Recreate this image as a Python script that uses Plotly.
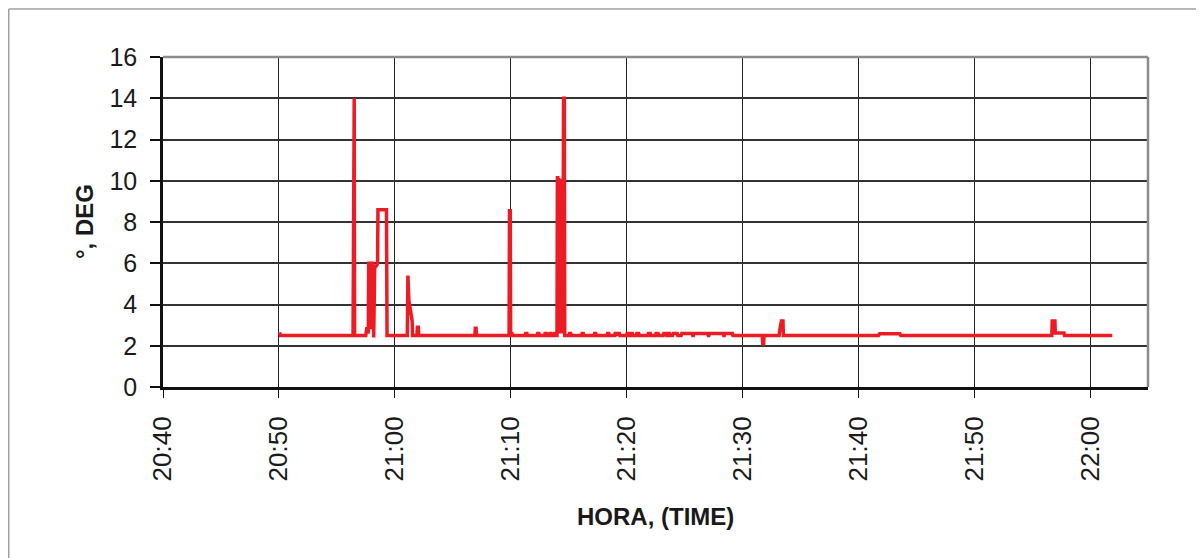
import plotly.graph_objects as go

# ---- data ----
times = [
    "20:50:04", "20:50:08",
    "20:56:24", "20:56:26", "20:56:30", "20:56:32",
    "20:57:30", "20:57:36", "20:57:43", "20:57:45", "20:57:52", "20:57:55",
    "20:57:58", "20:58:07", "20:58:11", "20:58:16", "20:58:27", "20:58:31",
    "20:58:33", "20:59:17", "20:59:20",
    "21:01:05", "21:01:08", "21:01:13", "21:01:24", "21:01:30", "21:01:32",
    "21:01:55", "21:01:57", "21:02:02", "21:02:04",
    "21:06:55", "21:06:57", "21:07:01", "21:07:03",
    "21:09:52", "21:09:54", "21:09:58", "21:10:00", "21:10:05", "21:10:10",
    "21:11:15", "21:11:18", "21:11:24", "21:11:27",
    "21:12:17", "21:12:20", "21:12:26", "21:12:29",
    "21:12:55", "21:12:58", "21:13:05", "21:13:08",
    "21:13:20", "21:13:23", "21:13:30", "21:13:33",
    "21:13:44", "21:13:47", "21:13:52", "21:13:55",
    "21:14:00", "21:14:02", "21:14:04", "21:14:06", "21:14:08", "21:14:10",
    "21:14:12", "21:14:14", "21:14:16", "21:14:18", "21:14:20", "21:14:22",
    "21:14:24", "21:14:26", "21:14:28", "21:14:30", "21:14:32", "21:14:34",
    "21:14:38", "21:14:40",
    "21:15:02", "21:15:05", "21:15:11", "21:15:14",
    "21:16:07", "21:16:10", "21:16:16", "21:16:19",
    "21:17:12", "21:17:15", "21:17:21", "21:17:24",
    "21:18:19", "21:18:22", "21:18:28", "21:18:31",
    "21:18:58", "21:19:01", "21:19:07", "21:19:10",
    "21:19:14", "21:19:17", "21:19:23", "21:19:26",
    "21:20:00", "21:20:03", "21:20:10", "21:20:13",
    "21:20:20", "21:20:23", "21:20:30", "21:20:33",
    "21:20:50", "21:20:53", "21:21:03", "21:21:06",
    "21:21:50", "21:21:53", "21:22:03", "21:22:06",
    "21:22:30", "21:22:33", "21:22:43", "21:22:46",
    "21:23:10", "21:23:13", "21:23:25", "21:23:28",
    "21:23:32", "21:23:35", "21:23:42", "21:23:45",
    "21:23:58", "21:24:01", "21:24:22", "21:24:25",
    "21:24:43", "21:24:46", "21:25:40", "21:25:43",
    "21:25:46", "21:25:49", "21:27:00", "21:27:03",
    "21:27:06", "21:27:09", "21:28:20", "21:28:23",
    "21:28:26", "21:28:29", "21:29:08", "21:29:11",
    "21:31:43", "21:31:45", "21:31:50", "21:31:52",
    "21:33:10", "21:33:14", "21:33:22", "21:33:30", "21:33:32",
    "21:41:45", "21:41:50", "21:43:35", "21:43:40",
    "21:56:42", "21:56:44", "21:56:58", "21:57:00", "21:57:45", "21:57:48",
    "22:01:55",
]
degs = [
    2.65, 2.5,
    2.5, 14.0, 14.0, 2.5,
    2.5, 2.9, 2.6, 6.0, 6.0, 2.8,
    6.0, 6.0, 2.4, 5.8, 5.9, 6.0,
    8.6, 8.6, 2.5,
    2.5, 5.4, 4.2, 3.6, 3.2, 2.5,
    2.5, 2.9, 2.9, 2.5,
    2.5, 2.85, 2.85, 2.5,
    2.5, 8.55, 8.55, 2.5, 2.65, 2.5,
    2.5, 2.6, 2.6, 2.5,
    2.5, 2.6, 2.6, 2.5,
    2.5, 2.6, 2.6, 2.5,
    2.5, 2.6, 2.6, 2.5,
    2.5, 2.6, 2.6, 2.5,
    2.5, 10.15, 10.15, 2.6, 10.1, 2.6,
    10.0, 2.6, 9.9, 2.6, 10.0, 2.6,
    10.1, 2.6, 10.0, 2.6, 10.0, 14.0,
    14.0, 2.5,
    2.5, 2.6, 2.6, 2.5,
    2.5, 2.6, 2.6, 2.5,
    2.5, 2.6, 2.6, 2.5,
    2.5, 2.6, 2.6, 2.5,
    2.5, 2.6, 2.6, 2.5,
    2.5, 2.6, 2.6, 2.5,
    2.5, 2.6, 2.6, 2.5,
    2.5, 2.6, 2.6, 2.5,
    2.5, 2.6, 2.6, 2.5,
    2.5, 2.6, 2.6, 2.5,
    2.5, 2.6, 2.6, 2.5,
    2.5, 2.6, 2.6, 2.5,
    2.5, 2.6, 2.6, 2.5,
    2.5, 2.6, 2.6, 2.5,
    2.5, 2.6, 2.6, 2.5,
    2.5, 2.6, 2.6, 2.5,
    2.5, 2.6, 2.6, 2.5,
    2.5, 2.6, 2.6, 2.5,
    2.5, 2.1, 2.1, 2.5,
    2.5, 2.8, 3.2, 3.2, 2.5,
    2.5, 2.58, 2.58, 2.5,
    2.5, 3.2, 3.2, 2.62, 2.62, 2.5,
    2.5,
]

DAY = "2024-01-01 "
x_vals = [DAY + t for t in times]

y_ticks = [0, 2, 4, 6, 8, 10, 12, 14, 16]
x_range = ["20:40:00", "22:05:00"]
x_title = "HORA, (TIME)"
y_title = "°, DEG"

FONT = "Liberation Sans, Arial, sans-serif"
TXT = "#1a1a1a"

fig = go.Figure()
fig.add_trace(go.Scatter(
    x=x_vals, y=degs, mode="lines",
    line=dict(color="#ED1C24", width=3.5),
    showlegend=False, hoverinfo="skip",
))

# page body adds an 8px offset; compensate in size/margins
fig.update_layout(
    width=1196, height=550,
    margin=dict(l=155, r=56, t=49, b=171),
    paper_bgcolor="white", plot_bgcolor="white",
    font=dict(family=FONT, color=TXT),
    showlegend=False,
)

fig.update_xaxes(
    type="date",
    range=[DAY + x_range[0], DAY + x_range[1]],
    tick0=DAY + "20:40:00", dtick=600000,
    tickformat="%H:%M", tickangle=-90,
    tickfont=dict(size=26, family=FONT, color=TXT),
    ticks="outside", ticklen=8, tickwidth=1, tickcolor="#111",
    ticklabelstandoff=8,
    showgrid=True, gridcolor="#222", gridwidth=1.2,
    showline=True, linecolor="#111", linewidth=3,
    zeroline=False,
)
fig.update_yaxes(
    range=[0, 16], tickvals=y_ticks,
    tickfont=dict(size=25, family=FONT, color=TXT),
    ticks="outside", ticklen=10, tickwidth=1.5, tickcolor="#111",
    ticklabelstandoff=8,
    showgrid=True, gridcolor="#333", gridwidth=1.5,
    showline=True, linecolor="#111", linewidth=2.5,
    zeroline=False,
)

# plot-area top/right border (gray) and outer chart border
fig.add_shape(type="line", xref="paper", yref="paper", x0=0, x1=1, y0=1, y1=1,
              line=dict(color="#8c8c8c", width=2.5), layer="above")
fig.add_shape(type="line", xref="paper", yref="paper", x0=1, x1=1, y0=0, y1=1,
              line=dict(color="#8c8c8c", width=2.5), layer="above")
fig.add_shape(type="line", xref="paper", yref="paper", x0=-0.1566, x1=1.2, y0=1.1455, y1=1.1455,
              line=dict(color="#a0a0a0", width=1.5), layer="above")
fig.add_shape(type="line", xref="paper", yref="paper", x0=-0.1566, x1=-0.1566, y0=-0.6, y1=1.1455,
              line=dict(color="#a0a0a0", width=1.5), layer="above")

fig.add_annotation(text="<b>" + x_title + "</b>", xref="paper", yref="paper",
                   x=0.5, y=-0.391, xanchor="center", yanchor="middle",
                   showarrow=False, font=dict(size=24, family=FONT, color=TXT))
fig.add_annotation(text="<b>" + y_title + "</b>", xref="paper", yref="paper",
                   x=-0.0802, y=0.5, xanchor="center", yanchor="middle", textangle=-90,
                   showarrow=False, font=dict(size=24, family=FONT, color=TXT))

fig.write_html("out.html")
